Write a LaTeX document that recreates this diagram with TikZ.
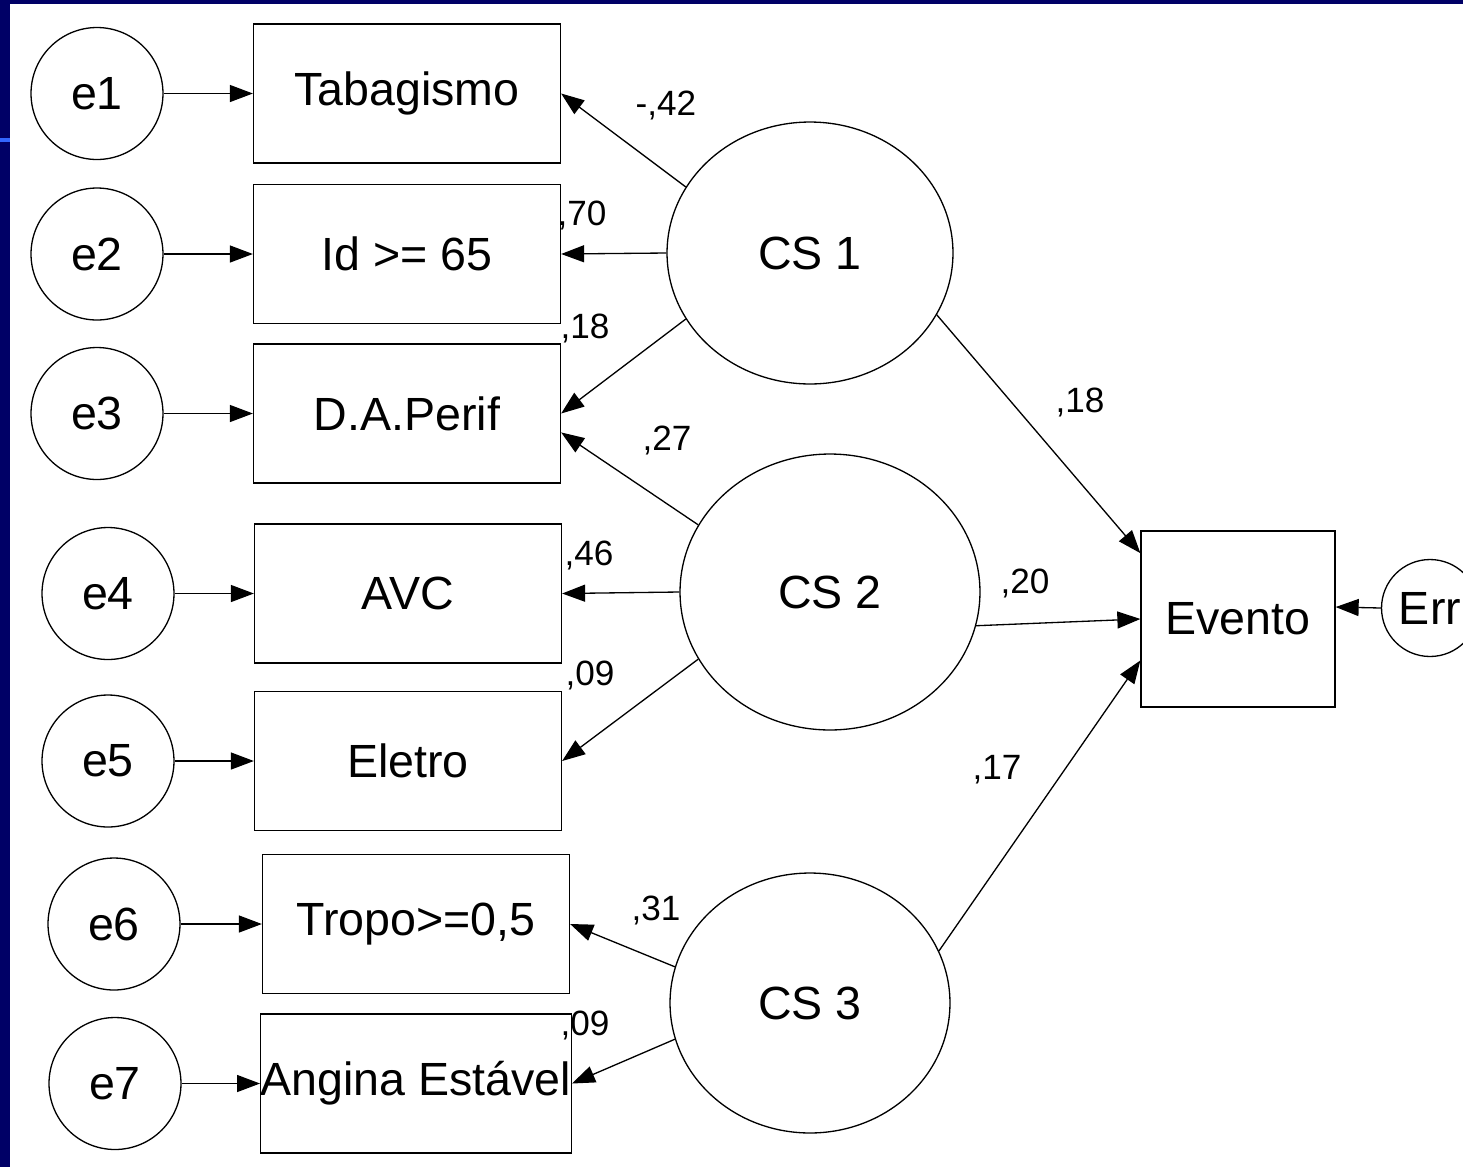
\documentclass[tikz,border=0pt]{standalone}
\usepackage{fontspec}
\setmainfont{Liberation Sans}
\usetikzlibrary{arrows.meta,shapes.geometric}
\definecolor{slideBlue}{HTML}{000066}
\definecolor{slideLine}{HTML}{3366FF}
\newcommand{\vartext}{\fontsize{26.5}{30}\selectfont}
\newcommand{\coeftext}{\fontsize{20}{24}\selectfont}

\begin{document}
\begin{tikzpicture}[x=0.02cm, y=-0.02cm, ->, >={Triangle[length=0.46cm,width=0.34cm]},
		line width=0.75pt, font=\vartext,
		obs/.style={draw, rectangle, inner sep=0, minimum width=6.14cm, minimum height=2.78cm},
		errc/.style={draw, circle, inner sep=0, minimum size=2.64cm},
		lat/.style={draw, ellipse, inner sep=0},
		coef/.style={font=\coeftext, inner sep=0}]
	\clip (0,0) rectangle (1463,1167);
	% slide frame
	\fill[slideBlue] (0,0) rectangle (10,1167);
	\fill[slideBlue] (0,0) rectangle (1463,4);
	\fill[slideLine] (0,138) rectangle (10,142);

	% measured variables
	\node[obs] (tab) at (407,93.5) {Tabagismo};
	\node[obs] (id) at (407,254) {Id >= 65};
	\node[obs] (da) at (407,413.5) {D.A.Perif};
	\node[obs] (avc) at (408,593.5) {AVC};
	\node[obs] (ele) at (408,761) {Eletro};
	\node[obs] (tro) at (416,924) {Tropo>=0,5};
	\node[obs] (ang) at (416,1083.5) {Angina Est\'avel};
	\node[draw, rectangle, inner sep=0, minimum width=3.88cm, minimum height=3.52cm] (ev) at (1238,619) {Evento};

	% error terms
	\node[errc] (e1) at (97,93.5) {e1};
	\node[errc] (e2) at (97,254) {e2};
	\node[errc] (e3) at (97,413.5) {e3};
	\node[errc] (e4) at (108,593.5) {e4};
	\node[errc] (e5) at (108,761) {e5};
	\node[errc] (e6) at (114,924) {e6};
	\node[errc] (e7) at (115,1083.5) {e7};
	\node[draw, circle, inner sep=0, minimum size=1.94cm] (err) at (1430,608) {Err};

	% latent factors
	\node[lat, minimum width=5.72cm, minimum height=5.24cm] (cs1) at (810,253) {CS 1};
	\node[lat, minimum width=6.0cm, minimum height=5.52cm] (cs2) at (830,592) {CS 2};
	\node[lat, minimum width=5.6cm, minimum height=5.2cm] (cs3) at (810,1003) {CS 3};

	\path (e1) edge (tab);
	\path (e2) edge (id);
	\path (e3) edge (da);
	\path (e4) edge (avc);
	\path (e5) edge (ele);
	\path (e6) edge (tro);
	\path (e7) edge (ang);
	\path (err.west) edge (ev.7);

	\path (cs1.152) edge (tab.east);
	\path (cs1.180) edge (id.east);
	\path (cs1.208) edge (da.east);
	\path (cs2.153) edge (da.-7);
	\path (cs2.180) edge (avc.east);
	\path (cs2.207) edge (ele.east);
	\path (cs3.165) edge (tro.east);
	\path (cs3.195) edge (ang.east);
	\path (cs1.334) edge (ev.146);
	\path (cs2.347) edge (ev.180);
	\path (cs3.22) edge (ev.203);

	% loadings and paths
	\node[coef] (c1) at (666,105) {-,42};
	\node[coef] (c2) at (582,215) {,70};
	\node[coef] (c3) at (585,328) {,18};
	\node[coef] (c4) at (667,440) {,27};
	\node[coef] (c5) at (589,555) {,46};
	\node[coef] (c6) at (590,675) {,09};
	\node[coef] (c7) at (656,910) {,31};
	\node[coef] (c8) at (585,1025) {,09};
	\node[coef] (c9) at (1080,402) {,18};
	\node[coef] (c10) at (1025,583) {,20};
	\node[coef] (c11) at (997,770) {,17};
\end{tikzpicture}
\end{document}
